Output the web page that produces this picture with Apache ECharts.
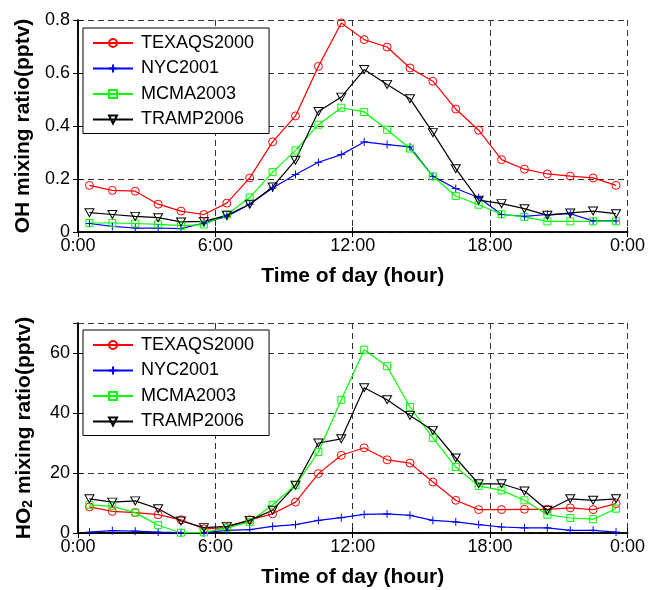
<!DOCTYPE html>
<html>
<head>
<meta charset="utf-8">
<script src="https://cdn.jsdelivr.net/npm/echarts@6/dist/echarts.min.js"></script>
<style>
  html, body { margin: 0; padding: 0; background: #fff; }
  #chart { width: 648px; height: 590px; }
</style>
</head>
<body>
<div id="chart"></div>
<script>
// hours of day (half-hour midpoints)
const hours = [0.5, 1.5, 2.5, 3.5, 4.5, 5.5, 6.5, 7.5, 8.5, 9.5, 10.5, 11.5,
  12.5, 13.5, 14.5, 15.5, 16.5, 17.5, 18.5, 19.5, 20.5, 21.5, 22.5, 23.5]
const campaigns = ['TEXAQS2000', 'NYC2001', 'MCMA2003', 'TRAMP2006']

// OH (pptv)
const ohTexaqs = [0.176, 0.157, 0.154, 0.105, 0.079, 0.066, 0.109, 0.204, 0.34, 0.438, 0.625, 0.789,
  0.726, 0.698, 0.619, 0.569, 0.464, 0.384, 0.273, 0.237, 0.219, 0.211, 0.204, 0.176]
const ohNyc = [0.032, 0.021, 0.015, 0.015, 0.013, 0.034, 0.059, 0.105, 0.166, 0.217, 0.263, 0.292,
  0.34, 0.33, 0.321, 0.21, 0.164, 0.13, 0.066, 0.059, 0.066, 0.069, 0.042, 0.042]
const ohMcma = [0.034, 0.034, 0.032, 0.029, 0.024, 0.028, 0.066, 0.13, 0.226, 0.308, 0.405, 0.469,
  0.453, 0.386, 0.315, 0.21, 0.136, 0.103, 0.067, 0.057, 0.04, 0.04, 0.04, 0.04]
const ohTramp = [0.073, 0.066, 0.059, 0.054, 0.038, 0.04, 0.063, 0.105, 0.17, 0.271, 0.455, 0.509,
  0.613, 0.557, 0.503, 0.375, 0.239, 0.12, 0.107, 0.088, 0.063, 0.072, 0.079, 0.069]

// HO2 (pptv)
const ho2Texaqs = [8.7, 7.2, 6.8, 6.1, 4.4, 1.4, 1.8, 4.4, 6.4, 10.3, 19.8, 25.9,
  28.4, 24.4, 23.3, 17, 10.9, 7.8, 7.8, 7.9, 7.9, 8.4, 7.8, 9.8]
const ho2Nyc = [0.3, 0.8, 0.6, 0.3, 0.1, 0.1, 0.9, 1.1, 2.2, 2.8, 4.2, 5.1,
  6.2, 6.4, 5.9, 4.2, 3.7, 2.8, 2.0, 1.7, 1.7, 0.9, 0.9, 0.3]
const ho2Mcma = [9.4, 8.9, 6.8, 2.6, 0.1, 0.2, 1.7, 3.7, 9.4, 15.9, 27, 44.4,
  61.1, 55.6, 42, 31.7, 22, 15.7, 14.2, 10.9, 6.1, 5, 4.6, 8.1]
const ho2Tramp = [11.4, 10.3, 10.7, 8.1, 4, 1.8, 2.2, 4.2, 7.6, 15.9, 30, 31.4,
  48.4, 44.4, 39.2, 34.2, 25, 16.4, 16.4, 14, 7.6, 11.4, 10.9, 11.4]

const FONT = "'Liberation Sans', Arial, sans-serif"

const styles = [
  { color: '#ff0000', symbol: 'circle', size: 8 },
  { color: '#0000ff', symbol: 'path://M0,-1L0,1M-1,0L1,0', size: 8 },
  { color: '#00ff00', symbol: 'rect', size: 7 },
  { color: '#000000', symbol: 'path://M-1,-1L1,-1L0,1Z', size: [9, 8] }
]

const chart = echarts.init(document.getElementById('chart'))

const pair = (ys) => hours.map((h, i) => [h, ys[i]])

const makeSeries = (name, idx, gridIdx, ys) => ({
  name: name,
  type: 'line',
  xAxisIndex: gridIdx,
  yAxisIndex: gridIdx,
  data: pair(ys),
  symbol: styles[idx].symbol,
  symbolSize: styles[idx].size,
  showAllSymbol: true,
  lineStyle: { color: styles[idx].color, width: 1.2 },
  itemStyle: { color: 'transparent', borderColor: styles[idx].color, borderWidth: 1 },
  emphasis: { disabled: true },
  animation: false
})

const gridLine = { show: true, lineStyle: { color: '#333', type: [6, 4], width: 1 } }
const frameLine = { show: true, lineStyle: { color: '#000', width: 1.5 } }

const xBottom = (gi) => ({
  type: 'value', gridIndex: gi, min: 0, max: 24, interval: 6,
  position: 'bottom',
  name: 'Time of day (hour)', nameLocation: 'middle', nameGap: 34,
  nameTextStyle: { fontFamily: FONT, fontSize: 21, fontWeight: 'bold', color: '#000' },
  axisLine: frameLine,
  axisTick: { inside: true, length: 5, lineStyle: { color: '#000' } },
  axisLabel: {
    fontFamily: FONT, fontSize: 18, color: '#000', margin: 5,
    formatter: (v) => (v % 24) + ':00'
  },
  splitLine: gridLine
})
const xTop = (gi) => ({
  type: 'value', gridIndex: gi, min: 0, max: 24, interval: 6,
  position: 'top',
  axisLine: frameLine,
  axisTick: { inside: true, length: 5, lineStyle: { color: '#000' } },
  axisLabel: { show: false },
  splitLine: { show: false }
})

const legendFor = (top) => ({
  data: campaigns,
  orient: 'vertical',
  left: 83,
  top: top,
  padding: [5, 15, 4, 9],
  itemWidth: 40,
  itemHeight: 10,
  itemGap: 5.5,
  borderColor: '#000',
  borderWidth: 1,
  backgroundColor: '#fff',
  selectedMode: false,
  textStyle: { fontFamily: FONT, fontSize: 18, color: '#000', lineHeight: 20, padding: [0, 0, 0, 3] }
})

const option = {
  animation: false,
  backgroundColor: '#fff',
  grid: [
    { left: 78, right: 15, top: 20, height: 212 },
    { left: 78, right: 15, top: 323, height: 210 }
  ],
  legend: [legendFor(28), legendFor(330)],
  xAxis: [xBottom(0), xBottom(1), xTop(0), xTop(1)],
  yAxis: [
    {
      type: 'value', gridIndex: 0, min: 0, max: 0.8, interval: 0.2,
      name: 'OH mixing ratio(pptv)', nameLocation: 'middle', nameGap: 43,
      nameTextStyle: { fontFamily: FONT, fontSize: 21, fontWeight: 'bold', color: '#000' },
      axisLine: frameLine,
      axisTick: { inside: true, length: 5, lineStyle: { color: '#000' } },
      axisLabel: { fontFamily: FONT, fontSize: 18, color: '#000', margin: 8 },
      splitLine: gridLine
    },
    {
      type: 'value', gridIndex: 1, min: 0, max: 70, interval: 20,
      name: 'HO{sub|2} mixing ratio(pptv)', nameLocation: 'middle', nameGap: 43,
      nameTextStyle: {
        fontFamily: FONT, fontSize: 21, fontWeight: 'bold', color: '#000',
        rich: {
          sub: { fontFamily: FONT, fontSize: 14, fontWeight: 'bold', color: '#000', verticalAlign: 'bottom', lineHeight: 14 }
        }
      },
      axisLine: frameLine,
      axisTick: { inside: true, length: 5, lineStyle: { color: '#000' } },
      axisLabel: { fontFamily: FONT, fontSize: 18, color: '#000', margin: 8, showMaxLabel: false },
      splitLine: gridLine
    },
    {
      type: 'value', gridIndex: 0, min: 0, max: 0.8, interval: 0.2, position: 'right',
      axisLine: frameLine,
      axisTick: { inside: true, length: 5, lineStyle: { color: '#000' } },
      axisLabel: { show: false }, splitLine: { show: false }
    },
    {
      type: 'value', gridIndex: 1, min: 0, max: 70, interval: 20, position: 'right',
      axisLine: frameLine,
      axisTick: { inside: true, length: 5, lineStyle: { color: '#000' } },
      axisLabel: { show: false }, splitLine: { show: false }
    }
  ],
  series: [
    makeSeries(campaigns[0], 0, 0, ohTexaqs),
    makeSeries(campaigns[1], 1, 0, ohNyc),
    makeSeries(campaigns[2], 2, 0, ohMcma),
    makeSeries(campaigns[3], 3, 0, ohTramp),
    makeSeries(campaigns[0], 0, 1, ho2Texaqs),
    makeSeries(campaigns[1], 1, 1, ho2Nyc),
    makeSeries(campaigns[2], 2, 1, ho2Mcma),
    makeSeries(campaigns[3], 3, 1, ho2Tramp)
  ]
}

chart.setOption(option)
</script>
</body>
</html>
